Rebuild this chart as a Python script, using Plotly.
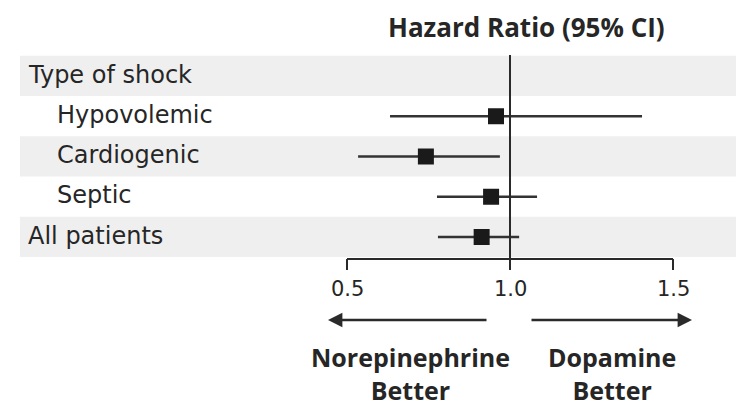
import plotly.graph_objects as go

# ---- data ----
rows = ["Type of shock", "Hypovolemic", "Cardiogenic", "Septic", "All patients"]
subgroups = ["Hypovolemic", "Cardiogenic", "Septic"]
hr = [None, 0.957, 0.742, 0.942, 0.913]
ci_low = [None, 0.632, 0.534, 0.776, 0.779]
ci_high = [None, 1.405, 0.969, 1.083, 1.028]
tick_vals = [0.5, 1.0, 1.5]
tick_text = ["0.5", "1.0", "1.5"]
title_text = "Hazard Ratio (95% CI)"
left_label = "Norepinephrine<br>Better"
right_label = "Dopamine<br>Better"

# ---- layout helpers ----
OFF = 8                      # default page margin of the html body
W, H = 744 - OFF, 406 - OFF
REG = "DejaVu Sans"
BOLD = "Open Sans"
TXT = "#262626"
LINE = "#2a2a2a"

px_per_unit = 326.0
x_ref_px = 510.0 - OFF
x0 = 1.0 - x_ref_px / px_per_unit
x1 = x0 + W / px_per_unit
row_px0 = 237.0 - OFF
row_step = 40.25
y_top = row_px0 / row_step
y_bot = (row_px0 - H) / row_step

def ypx(p):  # screen pixel -> y value
    return (row_px0 - (p - OFF)) / row_step

def xpaper(p):  # screen pixel -> paper x
    return (p - OFF) / W

def xdata(p):  # screen pixel -> data x
    return 1.0 + (p - 510.0) / px_per_unit

n = len(rows)
yv = [n - 1 - i for i in range(n)]

fig = go.Figure()

# shaded bands
for i, r in enumerate(rows):
    if i % 2 == 0:
        fig.add_shape(type="rect", xref="paper", yref="y",
                      x0=xpaper(20), x1=1, y0=yv[i] - 0.5, y1=yv[i] + 0.5,
                      fillcolor="#efefef", line_width=0, layer="below")

# reference line at HR = 1
fig.add_shape(type="line", xref="x", yref="y", x0=1.0, x1=1.0,
              y0=ypx(55), y1=ypx(270), line=dict(color=LINE, width=2))

# axis bracket
ax_y = ypx(259)
tick_bottom = ypx(270)
fig.add_shape(type="line", x0=min(tick_vals), x1=max(tick_vals), y0=ax_y, y1=ax_y,
              line=dict(color=LINE, width=2))
for tv, tt in zip(tick_vals, tick_text):
    fig.add_shape(type="line", x0=tv, x1=tv, y0=ax_y, y1=tick_bottom,
                  line=dict(color=LINE, width=2))
    fig.add_annotation(x=tv, y=ypx(289), text=tt, showarrow=False,
                       font=dict(family=REG, size=21, color=TXT))

# estimates with CI
px_, py_, em, ep = [], [], [], []
for i in range(n):
    if hr[i] is None:
        continue
    px_.append(hr[i]); py_.append(yv[i])
    em.append(hr[i] - ci_low[i]); ep.append(ci_high[i] - hr[i])
fig.add_trace(go.Scatter(
    x=px_, y=py_, mode="markers",
    marker=dict(symbol="square", size=16, color="#1a1a1a"),
    error_x=dict(type="data", symmetric=False, array=ep, arrayminus=em,
                 width=0, thickness=2.5, color="#333333"),
    showlegend=False, hoverinfo="skip"))

# row labels
for i, r in enumerate(rows):
    xl = 55 if r in subgroups else 26
    fig.add_annotation(xref="paper", yref="y", x=xpaper(xl), y=yv[i] + 1.5 / row_step,
                       text=r, showarrow=False, xanchor="left",
                       font=dict(family=REG, size=24, color=TXT))

# title
fig.add_annotation(xref="x", yref="y", x=xdata(526), y=ypx(27),
                   text="<b>" + title_text + "</b>", showarrow=False,
                   font=dict(family=BOLD, size=26, color=TXT))

# arrows
arr_y = ypx(320)
fig.add_annotation(x=xdata(328), y=arr_y, ax=xdata(488), ay=arr_y, axref="x", ayref="y",
                   xref="x", yref="y", text="", showarrow=True, arrowhead=2,
                   arrowsize=1.15, arrowwidth=2.5, arrowcolor=LINE)
fig.add_annotation(x=xdata(692), y=arr_y, ax=xdata(530), ay=arr_y, axref="x", ayref="y",
                   xref="x", yref="y", text="", showarrow=True, arrowhead=2,
                   arrowsize=1.15, arrowwidth=2.5, arrowcolor=LINE)

# direction labels
fig.add_annotation(x=xdata(410), y=ypx(373), text="<b>" + left_label + "</b>", showarrow=False,
                   font=dict(family=BOLD, size=25, color=TXT))
fig.add_annotation(x=xdata(612), y=ypx(373), text="<b>" + right_label + "</b>", showarrow=False,
                   font=dict(family=BOLD, size=25, color=TXT))

fig.update_layout(
    width=W, height=H, margin=dict(l=0, r=0, t=0, b=0),
    paper_bgcolor="white", plot_bgcolor="white",
    xaxis=dict(range=[x0, x1], visible=False, fixedrange=True),
    yaxis=dict(range=[y_bot, y_top], visible=False, fixedrange=True),
)

fig.write_html("out.html")
